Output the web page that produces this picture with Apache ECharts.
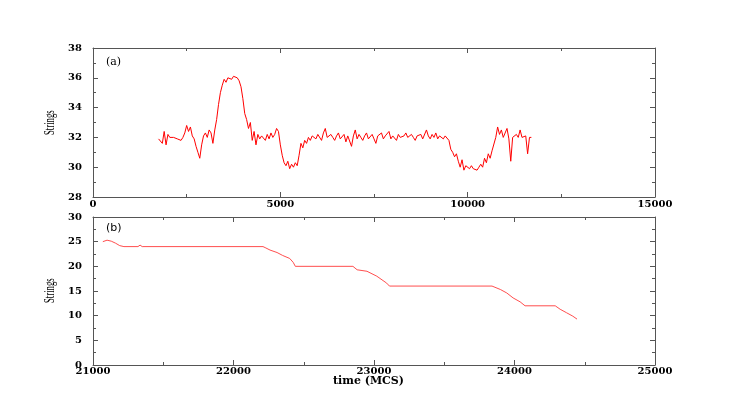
<!DOCTYPE html>
<html>
<head>
<meta charset="utf-8">
<script src="https://cdn.jsdelivr.net/npm/echarts@6/dist/echarts.min.js"></script>
<style>
  html, body { margin: 0; padding: 0; background: #fff; }
  #chart { width: 747px; height: 415px; }
</style>
</head>
<body>
<div id="chart"></div>
<script>
// panel (a): sampled every 50 MCS from 1750
var topStart = 1750, topStep = 50;
var topValues = [
  31.9, 32.0, 31.6, 32.4, 31.5, 32.2, 32.0, 31.9, 32.0, 32.1, 31.9, 32.0, 31.8, 32.0,
  32.3, 32.8, 32.4, 32.7, 32.1, 31.9, 31.4, 31.0,
  30.6, 31.5, 32.1, 32.3, 32.0, 32.5, 32.3, 31.6, 32.5,
  33.2, 34.2, 35.0, 35.5, 35.9, 35.7, 36.0, 36.1, 35.9, 36.1, 36.0, 36.0, 35.8, 35.4,
  34.6, 33.6, 33.2, 32.6, 33.0, 31.8, 32.4, 31.5, 32.2, 31.9, 32.1, 32.0, 31.8, 32.2, 31.9, 32.3, 32.0, 32.2, 32.6, 32.4,
  31.5, 30.8, 30.3, 30.1, 30.4, 29.9, 30.2, 30.0, 30.3, 30.1, 30.8, 31.6, 31.3, 31.8, 31.6, 32.0, 31.8, 32.1,
  32.0, 31.9, 32.2, 32.1, 31.8, 32.3, 32.6, 32.0, 31.9, 32.2,
  32.0, 31.8, 32.1, 32.3, 31.9, 32.0, 32.2, 31.7, 32.1, 32.0,
  31.4, 32.1, 32.5, 31.9, 32.2, 32.0, 31.8, 32.1, 32.3, 31.9,
  32.0, 32.2, 31.9, 31.6, 32.1, 32.0, 32.3, 31.9, 32.1, 32.0,
  32.4, 31.9, 32.1, 32.0, 31.8, 32.2, 32.0, 31.9, 32.1, 32.3,
  32.0, 31.9, 32.2, 32.0, 31.8, 32.1, 32.0, 32.2, 31.9, 32.0,
  32.5, 32.1, 31.9, 32.2, 32.0, 32.3, 31.9, 32.1, 32.0, 31.9,
  32.1,
  32.1, 31.8, 31.2, 31.0, 30.7, 30.9, 30.4, 30.0, 30.5, 29.8,
  30.1, 30.0, 29.9, 30.1, 29.9, 30.0, 29.8, 30.0, 30.2, 30.0,
  30.6, 30.3, 30.9, 30.6, 31.1, 31.0, 32.0, 32.7, 32.2, 32.5,
  32.0, 32.1, 32.6, 31.9, 30.4, 32.0, 31.9, 32.2, 32.0, 32.5,
  32.0, 31.9, 32.1, 30.9, 32.0, 32.0
];

// panel (b)
var bottomTimes = [21070, 21100, 21130, 21160, 21190, 21220, 21320, 21335, 21350, 22210,
  22225, 22260, 22310, 22350, 22400, 22425, 22440, 22850, 22880, 22950,
  23020, 23090, 23110, 23840, 23900, 23945, 23990, 24040, 24075, 24290,
  24325, 24370, 24415, 24445];
var bottomValues = [25.0, 25.3, 25.1, 24.7, 24.2, 24.0, 24.0, 24.3, 24.0, 24.0,
  23.8, 23.3, 22.8, 22.2, 21.6, 20.8, 20.0, 20.0, 19.3, 19.0,
  18.0, 16.6, 16.0, 16.0, 15.3, 14.6, 13.6, 12.8, 12.0, 12.0,
  11.3, 10.6, 9.9, 9.3];

var topXTicks = [0, 15000, 5000];
var topYTicks = [28, 38, 2];
var botXTicks = [21000, 25000, 1000];
var botYTicks = [0, 30, 5];

var topData = topValues.map(function (v, i) { return [topStart + i * topStep, v]; });
var bottomData = bottomTimes.map(function (t, i) { return [t, bottomValues[i]]; });

var lineCol = '#555';
var lblFont = {
  fontFamily: 'DejaVu Serif', fontWeight: 'bold', fontSize: 10, color: '#000',
  formatter: function (v) { return String(v); }
};

function axisBase(range, grid, pos, show, margin) {
  return {
    type: 'value', gridIndex: grid, position: pos,
    min: range[0], max: range[1], interval: range[2],
    axisLine: { show: true, onZero: false, lineStyle: { color: lineCol, width: 1 } },
    axisTick: { show: true, inside: true, length: 5, lineStyle: { color: lineCol } },
    minorTick: { show: true, splitNumber: 2, length: 3, lineStyle: { color: lineCol } },
    splitLine: { show: false },
    axisLabel: Object.assign({ show: show, margin: margin || 8 }, lblFont)
  };
}

var chart = echarts.init(document.getElementById('chart'));
chart.setOption({
  animation: false,
  backgroundColor: '#fff',
  grid: [
    { left: 93, right: 92, top: 48, height: 149 },
    { left: 93, right: 92, top: 217, height: 148 }
  ],
  xAxis: [
    axisBase(topXTicks, 0, 'bottom', true, 2),
    axisBase(topXTicks, 0, 'top', false),
    axisBase(botXTicks, 1, 'bottom', true, 1),
    axisBase(botXTicks, 1, 'top', false)
  ],
  yAxis: [
    axisBase(topYTicks, 0, 'left', true, 11),
    axisBase(topYTicks, 0, 'right', false),
    axisBase(botYTicks, 1, 'left', true, 11),
    axisBase(botYTicks, 1, 'right', false)
  ],
  series: [
    {
      type: 'line', xAxisIndex: 0, yAxisIndex: 0, data: topData,
      showSymbol: false, lineStyle: { color: '#ff0000', width: 1 }
    },
    {
      type: 'line', xAxisIndex: 2, yAxisIndex: 2, data: bottomData,
      showSymbol: false, lineStyle: { color: '#ff3a3a', width: 0.9 }
    }
  ],
  graphic: [
    { type: 'text', left: 106, top: 57, style: { text: '(a)', font: '11px "DejaVu Serif"', fill: '#000' } },
    { type: 'text', left: 106, top: 223, style: { text: '(b)', font: '11px "DejaVu Sans"', fill: '#000' } },
    { type: 'text', x: 43, y: 135, rotation: Math.PI / 2, scaleX: 0.62,
      style: { text: 'Strings', font: '14px "Liberation Serif"', fill: '#000' } },
    { type: 'text', x: 43, y: 303, rotation: Math.PI / 2, scaleX: 0.62,
      style: { text: 'Strings', font: '14px "Liberation Serif"', fill: '#000' } },
    { type: 'text', left: 333, top: 376,
      style: { text: 'time (MCS)', font: 'bold 11px "DejaVu Serif"', fill: '#000' } }
  ]
});
</script>
</body>
</html>
